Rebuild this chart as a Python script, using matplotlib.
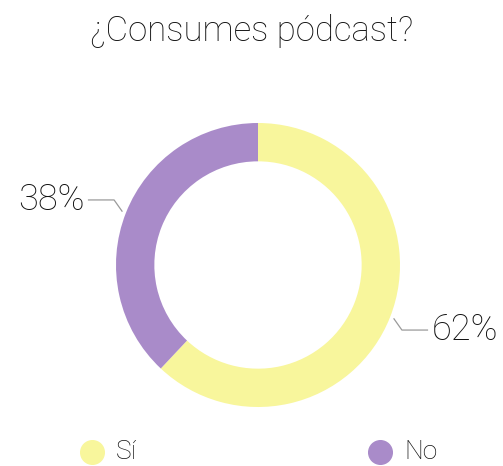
import numpy as np
import matplotlib
matplotlib.use("Agg")
import matplotlib.pyplot as plt
from matplotlib.lines import Line2D

# data
labels = ["Sí", "No"]
values = [62, 38]
colors = ["#f8f69c", "#a98bc9"]
title = "¿Consumes pódcast?"

plt.rcParams['font.family'] = ['Roboto', 'DejaVu Sans']
plt.rcParams['font.weight'] = 'light'

W, H = 503, 466
fig = plt.figure(figsize=(W / 100, H / 100), dpi=100, facecolor='white')

# donut axes: center (258, 265) px, radius 142 px
cx, cy, r = 258, 265, 142
ax = fig.add_axes([(cx - r) / W, (H - cy - r) / H, 2 * r / W, 2 * r / H])
wedges, _ = ax.pie(values, colors=colors, startangle=90, counterclock=False,
                   radius=1.0, wedgeprops=dict(width=0.27, edgecolor='none'))
ax.set_xlim(-1, 1)
ax.set_ylim(-1, 1)
ax.set_aspect('equal')
ax.axis('off')

# leader lines + percentage labels
for w, v in zip(wedges, values):
    ang = np.deg2rad((w.theta1 + w.theta2) / 2.)
    x0, y0 = np.cos(ang), np.sin(ang)
    sgn = np.sign(x0)
    x1, y1 = 1.09 * x0, y0 + 0.09 * np.sign(y0)
    x2 = x1 + sgn * 0.18
    ax.plot([x0 * 1.03, x1, x2], [y0 * 1.03, y1, y1], color='#9a9a9a', lw=0.9,
            clip_on=False)
    ax.text(x2 + sgn * 0.03, y1, "%d%%" % v, ha='left' if sgn > 0 else 'right',
            va='center', fontsize=26, color='#111111', fontweight='light')

fig.text(0.5, 1 - 31 / H, title, ha='center', va='center', fontsize=25,
         color='#111111', fontweight='light')

# legend
lx = [92, 380]
for x, lab, c in zip(lx, labels, colors):
    fig.add_artist(Line2D([x / W], [1 - 452 / H], marker='o', markersize=17,
                          color=c, linestyle='none'))
    fig.text((x + 24) / W, 1 - 452 / H, lab, ha='left', va='center',
             fontsize=19, color='#111111', fontweight='light')

plt.savefig('out.png', dpi=100, facecolor='white')
